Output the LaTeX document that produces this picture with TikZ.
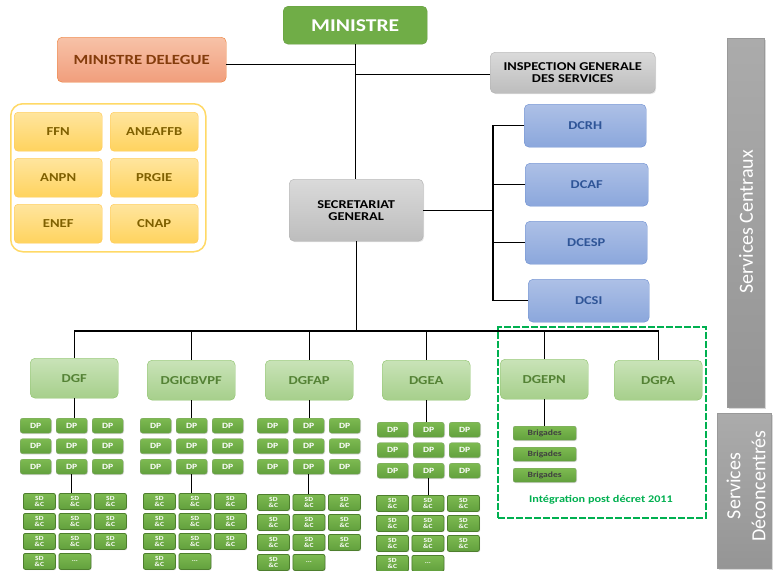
\documentclass[tikz,border=0pt]{standalone}
\usepackage{fontspec}
\setmainfont{Carlito}[FakeStretch=1.2]
\newfontfamily\plainfont{Carlito}
\usetikzlibrary{shadows}
\definecolor{minG}{HTML}{70AD47}
\definecolor{delTop}{HTML}{F7C2A8}
\definecolor{delBot}{HTML}{F19E7C}
\definecolor{delLine}{HTML}{ED7D31}
\definecolor{delText}{HTML}{843C0C}
\definecolor{yelTop}{HTML}{FFE59E}
\definecolor{yelBot}{HTML}{FFD35E}
\definecolor{yelLine}{HTML}{FFD966}
\definecolor{yelText}{HTML}{7F6000}
\definecolor{grTop}{HTML}{DADADA}
\definecolor{grBot}{HTML}{BDBDBD}
\definecolor{grLine}{HTML}{B0B0B0}
\definecolor{blTop}{HTML}{ADC0E6}
\definecolor{blBot}{HTML}{8BA7DC}
\definecolor{blLine}{HTML}{6C8ED0}
\definecolor{blText}{HTML}{2F5597}
\definecolor{lgTop}{HTML}{C9E3B8}
\definecolor{lgBot}{HTML}{A6CF8B}
\definecolor{lgLine}{HTML}{8CC26A}
\definecolor{lgText}{HTML}{548235}
\definecolor{dgTop}{HTML}{7DBA51}
\definecolor{dgBot}{HTML}{62A03D}
\definecolor{dgLine}{HTML}{4E7F2E}
\definecolor{dashG}{HTML}{00B050}
\definecolor{barTop}{HTML}{ABABAB}
\definecolor{barBot}{HTML}{959595}
\tikzset{
  fs/.style={font=\fontsize{#1}{#1}\selectfont\bfseries},
  box/.style={anchor=north west, inner sep=1pt, align=center, rounded corners=5pt},
  minbox/.style={box, fill=minG, draw=minG!90!black, text=white, fs=18},
  delbox/.style={box, top color=delTop, bottom color=delBot, draw=delLine, text=delText, fs=14},
  yelbox/.style={box, rounded corners=4pt, top color=yelTop, bottom color=yelBot, draw=yelLine!80!orange, text=yelText, fs=12.2, minimum width=88pt, minimum height=39pt},
  graybox/.style={box, top color=grTop, bottom color=grBot, draw=grLine, text=black, fs=12,
     drop shadow={opacity=0.2, shadow xshift=1pt, shadow yshift=-1pt}},
  bluebox/.style={box, top color=blTop, bottom color=blBot, draw=blLine, text=blText, fs=12,
     minimum width=122pt, minimum height=43pt},
  dgbox/.style={box, top color=lgTop, bottom color=lgBot, draw=lgLine, text=lgText, fs=12.2,
     minimum width=88pt, minimum height=40pt},
  dpbox/.style={box, rounded corners=2.5pt, top color=dgTop, bottom color=dgBot, draw=dgLine!70, text=white, fs=8,
     minimum width=31pt, minimum height=15pt,
     drop shadow={opacity=0.25, shadow xshift=0.8pt, shadow yshift=-0.8pt}},
  sdbox/.style={box, rounded corners=2pt, top color=dgTop, bottom color=dgBot, draw=dgLine, line width=0.8pt, text=white, fs=6.3,
     inner sep=0pt, minimum width=32pt, minimum height=16pt,
     drop shadow={opacity=0.25, shadow xshift=0.8pt, shadow yshift=-0.8pt}},
  brigbox/.style={box, rounded corners=2pt, top color=dgTop, bottom color=dgBot, draw=dgLine!70, text=black!75, fs=8,
     minimum width=63pt, minimum height=14pt,
     drop shadow={opacity=0.25, shadow xshift=0.8pt, shadow yshift=-0.8pt}},
  barbox/.style={box, rounded corners=0pt, top color=barTop, bottom color=barBot, draw=gray!80,
     drop shadow={opacity=0.3, shadow xshift=1.5pt, shadow yshift=-1.5pt}},
  bartext/.style={text=white, rotate=90, align=center, inner sep=0pt},
  conn/.style={draw=black, line width=1.2pt},
}
\newcommand\subunits[6]{%
  \foreach \c in {0,1,2}{%
    \foreach \r in {0,1,2}{%
      \node[dpbox] (#1p\r\c) at ({#3+36*\c},{#4+20.5*\r}) {DP};
      \node[sdbox] (#1s\r\c) at ({#5+35.5*\c},{#6+20*\r}) {SD\\\&C};
    }}
  \node[sdbox] (#1s30) at (#5,{#6+60}) {SD\\\&C};
  \node[sdbox] (#1s31) at ({#5+35.5},{#6+60}) {...};
  \draw[conn] (#2.south) -- (#2.south |- #1p01.north);
  \draw[conn] (#1p21.south) -- (#1p21.south |- #1s01.north);
}
\begin{document}
\begin{tikzpicture}[x=1pt,y=-1pt]
\useasboundingbox (0,0) rectangle (773,570);
\fill[white] (0,0) rectangle (773,570);

% top level
\node[minbox, minimum width=144pt, minimum height=38pt] (min) at (283,6) {MINISTRE};
\node[delbox, minimum width=169pt, minimum height=45pt] (del) at (57,37) {MINISTRE DELEGUE};
\node[graybox, minimum width=165pt, minimum height=41pt] (insp) at (490,52) {INSPECTION GENERALE\\DES SERVICES};
\node[graybox, minimum width=134pt, minimum height=62pt] (sg) at (289,179) {SECRETARIAT\\GENERAL};

% yellow group
\node[box, rounded corners=12pt, draw=yelLine, line width=1.5pt, fill=white, minimum width=195pt, minimum height=148pt] (grp) at (10,103) {};
\node[yelbox] (ffn) at (14,112) {FFN};
\node[yelbox] (anea) at (110,112) {ANEAFFB};
\node[yelbox] (anpn) at (14,158) {ANPN};
\node[yelbox] (prgie) at (110,158) {PRGIE};
\node[yelbox] (enef) at (14,204) {ENEF};
\node[yelbox] (cnap) at (110,204) {CNAP};

% central directorates
\node[bluebox] (dcrh) at (524,104) {DCRH};
\node[bluebox, minimum width=123pt] (dcaf) at (525,163) {DCAF};
\node[bluebox] (dcesp) at (525,221) {DCESP};
\node[bluebox, minimum width=121pt] (dcsi) at (528,279) {DCSI};

% right bars
\node[barbox, minimum width=37pt, minimum height=369pt] (bar1) at (727,38) {};
\node[bartext, font=\plainfont\fontsize{20}{22}\selectfont] (bar1t) at (746,222) {Services Centraux};
\node[barbox, minimum width=54pt, minimum height=155pt] (bar2) at (717,413) {};
\node[bartext, font=\plainfont\fontsize{20}{25}\selectfont] (bar2t) at (746,486) {Services\\Déconcentrés};

% dashed group
\node[box, rounded corners=0pt, draw=dashG, line width=2.2pt, dash pattern=on 7pt off 2pt, minimum width=208pt, minimum height=191pt] (dash) at (497,326) {};
\node[text=dashG, fs=10.2] (integ) at (601,500) {Intégration post décret 2011};

% general directorates
\node[dgbox] (dgf) at (30,358) {DGF};
\node[dgbox] (dgi) at (147,360) {DGICBVPF};
\node[dgbox] (dgfap) at (265,360) {DGFAP};
\node[dgbox] (dgea) at (382,360) {DGEA};
\node[dgbox] (dgepn) at (500,359) {DGEPN};
\node[dgbox] (dgpa) at (614,360) {DGPA};

% brigades
\node[brigbox] (b1) at (513,426) {Brigades};
\node[brigbox] (b2) at (513,447) {Brigades};
\node[brigbox] (b3) at (513,468) {Brigades};

% connectors top
\coordinate (bus) at (356,331);
\coordinate (dcbus) at (493,210);
\draw[conn] (min.south) -- (min.south |- sg.north);
\draw[conn] ([yshift=-5pt]del.east) -- ([yshift=-5pt]del.east -| min.south);
\draw[conn] ([yshift=-1.5pt]insp.west) -- ([yshift=-1.5pt]insp.west -| min.south);
\draw[conn] (sg.east) -- (sg.east -| dcbus);
\draw[conn] (dcrh.west) -- (dcrh.west -| dcbus) -- (dcsi.west -| dcbus) -- (dcsi.west);
\draw[conn] (dcaf.west) -- (dcaf.west -| dcbus);
\draw[conn] (dcesp.west) -- (dcesp.west -| dcbus);
\draw[conn] (sg.south) -- (sg.south |- bus);
\draw[conn] (dgf.north) -- (dgf.north |- bus) -- (dgpa.north |- bus) -- (dgpa.north);
\draw[conn] (dgi.north) -- (dgi.north |- bus);
\draw[conn] (dgfap.north) -- (dgfap.north |- bus);
\draw[conn] (dgea.north) -- (dgea.north |- bus);
\draw[conn] (dgepn.north) -- (dgepn.north |- bus);
\draw[conn] (dgepn.south) -- (dgepn.south |- b1.north);

% sub units
\subunits{f}{dgf}{20}{418}{23}{493}
\subunits{i}{dgi}{140}{418}{143}{493}
\subunits{a}{dgfap}{257}{418}{257}{494}
\subunits{e}{dgea}{377}{422}{376}{495}
\end{tikzpicture}
\end{document}
